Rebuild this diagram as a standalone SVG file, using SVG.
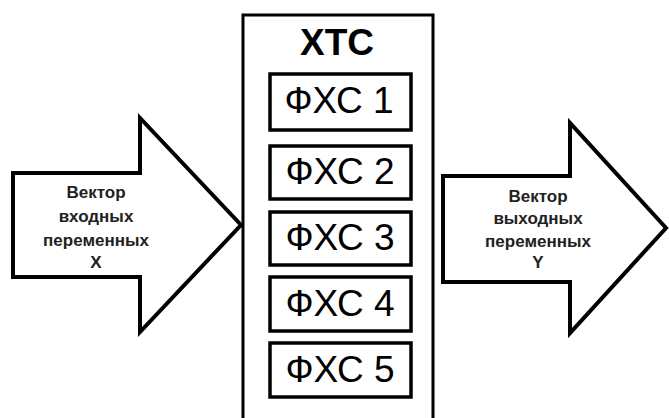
<svg xmlns="http://www.w3.org/2000/svg" width="669" height="418" viewBox="0 0 669 418">
<style>
.arrow{fill:#fff;stroke:#000;stroke-width:4;stroke-linejoin:miter}
.main{fill:#fff;stroke:#000;stroke-width:3}
.box{fill:#fff;stroke:#000;stroke-width:3.5}
.lbl{font-family:"Liberation Sans",Arial,sans-serif;font-size:17px;font-weight:bold;text-anchor:middle;fill:#222}
.fx{font-family:"Liberation Sans",Arial,sans-serif;font-size:37px;text-anchor:middle;fill:#000}
.title{font-family:"Liberation Sans",Arial,sans-serif;font-size:37px;font-weight:bold;text-anchor:middle;fill:#000}
</style>
<rect width="669" height="418" fill="#fff"/>
<g id="main">
<rect class="main" x="243" y="15" width="190" height="420"/>
<text class="title" x="337" y="55">ХТС</text>
</g>
<g id="fxs1"><rect class="box" x="270" y="74" width="141" height="56"/><text class="fx" x="339" y="113">ФХС 1</text></g>
<g id="fxs2"><rect class="box" x="270" y="146" width="141" height="53"/><text class="fx" x="340" y="184">ФХС 2</text></g>
<g id="fxs3"><rect class="box" x="270" y="212" width="141" height="53"/><text class="fx" x="340" y="250">ФХС 3</text></g>
<g id="fxs4"><rect class="box" x="270" y="277" width="141" height="54"/><text class="fx" x="340" y="316">ФХС 4</text></g>
<g id="fxs5"><rect class="box" x="270" y="343" width="141" height="54"/><text class="fx" x="340" y="382">ФХС 5</text></g>
<g id="input">
<polygon class="arrow" points="13,173 140,173 140,118 241,225 140,332 140,277 13,277"/>
<text class="lbl" x="96" y="198">Вектор</text>
<text class="lbl" x="96" y="222">входных</text>
<text class="lbl" x="96" y="246">переменных</text>
<text class="lbl" x="96" y="268">X</text>
</g>
<g id="output">
<polygon class="arrow" points="443,176 570,176 570,123 666,228 570,333 570,282 443,282"/>
<text class="lbl" x="538" y="202">Вектор</text>
<text class="lbl" x="538" y="224">выходных</text>
<text class="lbl" x="538" y="247">переменных</text>
<text class="lbl" x="538" y="268">Y</text>
</g>
<g id="connectors"></g>
</svg>
